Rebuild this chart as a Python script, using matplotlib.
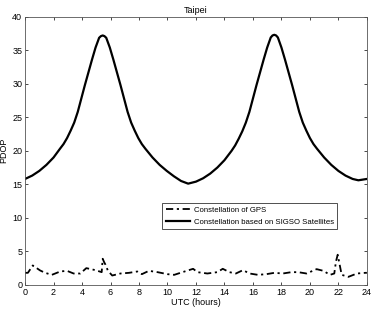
import matplotlib
matplotlib.use("Agg")
import matplotlib.pyplot as plt

plt.rcParams['font.family'] = ['Liberation Sans', 'DejaVu Sans']

# PDOP of the SIGSO based constellation over Taipei
sigso_hours = [0, 0.5, 1.0, 1.5, 2.0, 2.45, 2.7, 2.95, 3.2, 3.45, 3.7, 3.95,
               4.2, 4.45, 4.7, 4.95, 5.2, 5.325, 5.45, 5.575, 5.7, 5.95, 6.2,
               6.45, 6.7, 6.95, 7.2, 7.45, 7.7, 7.95, 8.2, 8.45, 8.95, 9.45,
               9.95, 10.45, 10.95, 11.45, 12.0, 12.5, 13.0, 13.5, 14.0, 14.5,
               14.75, 15.0, 15.25, 15.5, 15.75, 16.0, 16.25, 16.5, 16.75, 17.0,
               17.25, 17.375, 17.5, 17.625, 17.75, 18.0, 18.25, 18.5, 18.75,
               19.0, 19.25, 19.5, 19.75, 20.0, 20.25, 20.5, 21.0, 21.5, 22.0,
               22.5, 23.0, 23.4, 24.0]
sigso_pdop = [15.8, 16.3, 17.0, 17.9, 19.0, 20.3, 21.0, 21.9, 23.0, 24.2, 25.8,
              27.8, 29.8, 31.7, 33.6, 35.4, 36.85, 37.1, 37.2, 37.1, 36.85,
              35.4, 33.6, 31.7, 29.8, 27.8, 25.8, 24.2, 23.0, 21.9, 21.0,
              20.3, 19.0, 17.9, 17.0, 16.2, 15.5, 15.1, 15.4, 15.9, 16.6,
              17.5, 18.6, 20.0, 20.8, 21.8, 22.9, 24.2, 25.8, 27.8, 29.8,
              31.7, 33.6, 35.4, 36.9, 37.2, 37.3, 37.2, 36.9, 35.4, 33.6,
              31.7, 29.8, 27.8, 25.8, 24.2, 23.0, 21.9, 21.0, 20.3, 19.0,
              17.9, 17.0, 16.3, 15.8, 15.6, 15.8]

# PDOP of the GPS constellation
gps_hours = [0, 0.2, 0.54, 1.06, 1.41, 1.88, 2.47, 2.94, 3.41, 3.88, 4.3, 4.94,
             5.38, 5.45, 5.55, 5.65, 5.82, 6.12, 6.7, 7.3, 7.88, 8.2, 8.7,
             9.3, 10.0, 10.47, 11.2, 11.8, 12.1, 12.8, 13.5, 13.88, 14.35,
             14.8, 15.3, 15.76, 16.35, 16.94, 17.5, 18.1, 18.7, 19.17, 19.76,
             20.47, 20.94, 21.41, 21.71, 21.83, 21.95, 22.07, 22.23, 22.7,
             23.3, 23.9, 24.0]
gps_pdop = [1.8, 1.8, 2.9, 2.15, 1.8, 1.5, 2.0, 2.1, 1.7, 1.7, 2.5, 2.2,
            1.9, 3.9, 3.4, 3.0, 2.1, 1.4, 1.7, 1.8, 2.0, 1.6, 2.1,
            1.9, 1.6, 1.5, 2.0, 2.4, 1.9, 1.7, 1.9, 2.4, 1.9,
            1.7, 2.2, 1.7, 1.5, 1.6, 1.8, 1.7, 1.9, 1.9, 1.7,
            2.35, 2.1, 1.5, 1.7, 3.5, 4.5, 3.2, 1.5, 1.2,
            1.7, 1.8, 1.8]

fig = plt.figure(figsize=(3.74, 3.09), dpi=100)
ax = fig.add_axes([0.067, 0.078, 0.914, 0.868])

ax.plot(gps_hours, gps_pdop, color='black', linestyle='-.', linewidth=1.3,
        dashes=(4, 2, 1.2, 2), label='Constellation of GPS')
ax.plot(sigso_hours, sigso_pdop, color='black', linestyle='-', linewidth=1.6,
        solid_joinstyle='round', label='Constellation based on SIGSO Satellites')

ax.set_xlim(0, 24)
ax.set_ylim(0, 40)
ax.set_xticks(range(0, 25, 2))
ax.set_yticks(range(0, 41, 5))
ax.tick_params(direction='in', length=2.5, width=0.5, labelsize=6.5,
               top=True, right=True, pad=2)
for s in ax.spines.values():
    s.set_linewidth(0.6)
    s.set_color('#555555')

ax.set_title('Taipei', fontsize=6.5, pad=3)
ax.set_xlabel('UTC (hours)', fontsize=6.5, labelpad=1)
ax.set_ylabel('PDOP', fontsize=6.5, labelpad=3)

leg = ax.legend(loc='upper right', bbox_to_anchor=(0.913, 0.305), fontsize=5.6,
                frameon=True, fancybox=False, edgecolor='black',
                handlelength=3.2, borderpad=0.45, labelspacing=0.55,
                handletextpad=0.4, borderaxespad=0)
leg.get_frame().set_linewidth(0.6)

fig.savefig('out.png', dpi=100)
